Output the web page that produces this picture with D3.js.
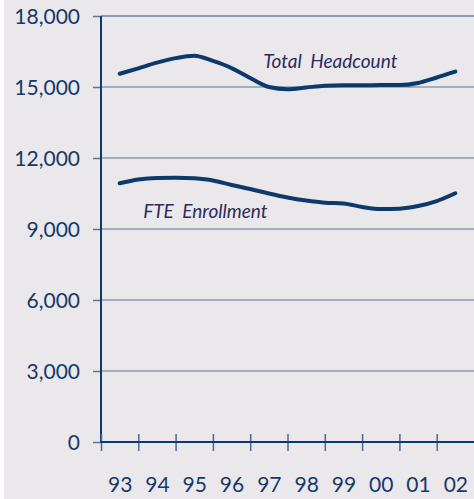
<!DOCTYPE html>
<meta charset="utf-8">
<style>
body { margin: 0; background: #fff; }
svg { display: block; }
.tick text { font-family: Lato, sans-serif; fill: #16396a; }
.label { font-family: Lato, sans-serif; font-style: italic; fill: #2d2b5c; }
</style>
<svg></svg>
<script src="https://d3js.org/d3.v7.min.js"></script>
<script>

// half-year readings, 1993 .. 2002
var periods = [1993, 1993.5, 1994, 1994.5, 1995, 1995.5, 1996, 1996.5, 1997, 1997.5,
               1998, 1998.5, 1999, 1999.5, 2000, 2000.5, 2001, 2001.5, 2002];
var headcount = [15560, 15790, 16030, 16220, 16320, 16100, 15800, 15380, 15000, 14910,
                 14980, 15050, 15070, 15070, 15080, 15080, 15170, 15400, 15650];
var fte = [10930, 11090, 11160, 11170, 11140, 11050, 10860, 10690, 10500, 10330,
           10200, 10110, 10080, 9930, 9840, 9860, 9970, 10180, 10510];
var years = [1993, 1994, 1995, 1996, 1997, 1998, 1999, 2000, 2001, 2002];
var yTicks = [0, 3000, 6000, 9000, 12000, 15000, 18000];
var seriesLabels = [
  {text: "Total Headcount", year: 1996.85, value: 15790},
  {text: "FTE Enrollment", year: 1993.63, value: 9460}
];

var width = 474, height = 499;
var svg = d3.select("svg").attr("width", width).attr("height", height);

// page background, white sliver at left edge
svg.append("rect").attr("x", 4).attr("y", 0)
  .attr("width", width - 4).attr("height", height).attr("fill", "#eae8eb");

var x = d3.scaleLinear().domain([1992.5, 2002.5]).range([101, 474]);
var y = d3.scaleLinear().domain([0, 18000]).range([442, 16]);

/*GRIDLINES*/
svg.append("g").selectAll("line")
  .data(yTicks.filter(function(d) { return d > 0; }))
  .enter().append("line")
  .attr("x1", x(1992.5)).attr("x2", width)
  .attr("y1", function(d) { return y(d); })
  .attr("y2", function(d) { return y(d); })
  .attr("stroke", function(d) { return d == 18000 ? "#29507d" : "#5a7699"; })
  .attr("stroke-width", 1.1);

/*Y AXIS*/
var yAxis = svg.append("g")
  .attr("transform", "translate(" + x(1992.5) + ",0)")
  .call(d3.axisLeft(y).tickValues(yTicks).tickSize(8).tickPadding(13)
    .tickFormat(d3.format(",")));
yAxis.select(".domain").remove();
yAxis.selectAll(".tick line").attr("stroke", "#5a7699").attr("stroke-width", 1.5);
yAxis.selectAll(".tick text").attr("font-size", 21).attr("dy", "0.36em");
svg.append("line")
  .attr("x1", x(1992.5)).attr("x2", x(1992.5))
  .attr("y1", y(18000)).attr("y2", y(0) + 1)
  .attr("stroke", "#0d3a6b").attr("stroke-width", 2);

/*X AXIS*/
var xTicks = d3.range(1992.5, 2002, 1);
var xAxis = svg.append("g")
  .attr("transform", "translate(0," + y(0) + ")")
  .call(d3.axisBottom(x).tickValues(xTicks).tickSize(9).tickFormat(""));
xAxis.select(".domain").remove();
xAxis.selectAll(".tick line").attr("y1", -8).attr("stroke", "#4d6a8f").attr("stroke-width", 1.5);
svg.append("line")
  .attr("x1", x(1992.5)).attr("x2", width)
  .attr("y1", y(0)).attr("y2", y(0))
  .attr("stroke", "#0d3a6b").attr("stroke-width", 2);

var xLabels = svg.append("g")
  .attr("transform", "translate(0," + y(0) + ")")
  .call(d3.axisBottom(x).tickValues(years).tickSize(0).tickPadding(35)
    .tickFormat(function(d) { return String(d % 100).padStart(2, "0"); }));
xLabels.select(".domain").remove();
xLabels.selectAll(".tick text").attr("font-size", 21);

/*SERIES LINES*/
var line = d3.line()
  .x(function(d, i) { return x(periods[i]); })
  .y(function(d) { return y(d); })
  .curve(d3.curveMonotoneX);

[headcount, fte].forEach(function(s) {
  svg.append("path")
    .attr("d", line(s))
    .attr("fill", "none")
    .attr("stroke", "#0b3a6a")
    .attr("stroke-width", 4)
    .attr("stroke-linecap", "round")
    .attr("stroke-linejoin", "round");
});

svg.append("g").selectAll("text")
  .data(seriesLabels)
  .enter().append("text")
  .attr("class", "label")
  .attr("x", function(d) { return x(d.year); })
  .attr("y", function(d) { return y(d.value); })
  .attr("font-size", 19)
  .attr("word-spacing", 4)
  .text(function(d) { return d.text; });

</script>
